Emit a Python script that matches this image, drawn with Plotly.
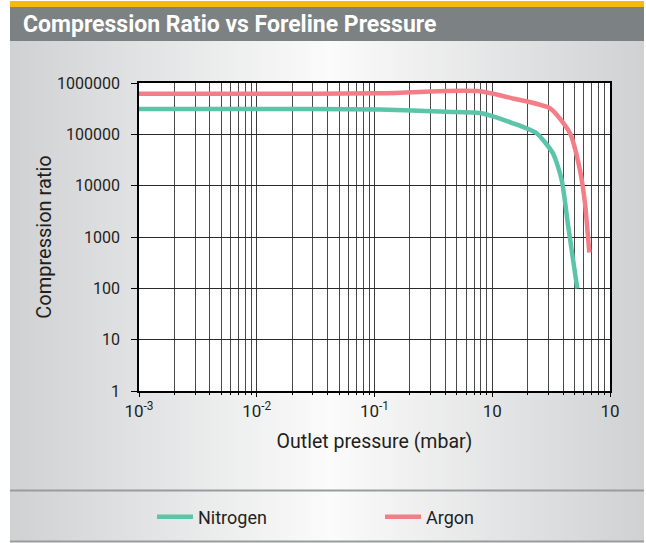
import plotly.graph_objects as go

# ---- data ----
nitrogen_x = [0.001, 0.003, 0.01, 0.03, 0.111, 0.404, 0.79, 1.5, 2.38, 3.28, 3.89, 4.42, 5.27]
nitrogen_y = [310000, 310000, 310000, 310000, 305000, 276000, 260000, 164000, 105000, 42500, 12900, 1600, 100]

argon_x = [0.001, 0.003, 0.01, 0.03, 0.111, 0.404, 0.79, 1.5, 3.1, 4.57, 5.56, 6.13, 6.67]
argon_y = [620000, 620000, 620000, 620000, 630000, 700000, 690000, 500000, 320000, 105000, 20000, 4600, 500]

x_tickvals = [0.001, 0.01, 0.1, 1, 10]
x_ticktext = ["10<sup>-3</sup>", "10<sup>-2</sup>", "10<sup>-1</sup>", "10", "10"]
y_tickvals = [1, 10, 100, 1000, 10000, 100000, 1000000]
y_ticktext = ["1", "10", "100", "1000", "10000", "100000", "1000000"]
minor_mult = [2, 3, 4, 5, 6, 7, 8, 9]
decades = [0.001, 0.01, 0.1, 1]

title_text = "Compression Ratio vs Foreline Pressure"
series_names = ["Nitrogen", "Argon"]
colors = ["#5cc4a9", "#f37e88"]

FONT = "Roboto, Liberation Sans, Arial, sans-serif"

W, H = 646, 543
ML, MR, MT, MB = 139, 36, 83, 152
PW, PH = W - ML - MR, H - MT - MB


def px2x(px):
    return (px - ML) / PW


def py2y(py):
    return (H - MB - py) / PH


fig = go.Figure()
fig.add_trace(go.Scatter(x=nitrogen_x, y=nitrogen_y, name=series_names[0], mode="lines",
                         legend="legend",
                         line=dict(color=colors[0], width=4.5, shape="spline", smoothing=0.6)))
fig.add_trace(go.Scatter(x=argon_x, y=argon_y, name=series_names[1], mode="lines",
                         legend="legend2",
                         line=dict(color=colors[1], width=4.5, shape="spline", smoothing=0.6)))

shapes = []
# gradient panel background
left, right, center = 10, 644, 330
c_edge = (0xd0, 0xd1, 0xd3)
c_mid = (0xfb, 0xfb, 0xfb)
step = 3
xpix = left
while xpix < right:
    xm = xpix + step / 2
    if xm < center:
        t = (center - xm) / (center - left)
    else:
        t = (xm - center) / (right - center)
    t = min(max(t, 0), 1)
    col = tuple(round(c_mid[i] + (c_edge[i] - c_mid[i]) * t) for i in range(3))
    shapes.append(dict(type="rect", xref="paper", yref="paper", layer="below",
                       x0=px2x(xpix), x1=px2x(min(xpix + step + 0.6, right)),
                       y0=py2y(541), y1=py2y(41),
                       line=dict(width=0), fillcolor="rgb(%d,%d,%d)" % col))
    xpix += step
# title bar
shapes.append(dict(type="rect", xref="paper", yref="paper", layer="below",
                   x0=px2x(left), x1=px2x(right), y0=py2y(41), y1=py2y(7),
                   line=dict(width=0), fillcolor="#7c8183"))
shapes.append(dict(type="rect", xref="paper", yref="paper", layer="below",
                   x0=px2x(left), x1=px2x(right), y0=py2y(7), y1=py2y(1),
                   line=dict(width=0), fillcolor="#f7b90d"))
# separator lines
for yy in (490.5, 541.5):
    shapes.append(dict(type="rect", xref="paper", yref="paper", layer="below",
                       x0=px2x(left), x1=px2x(right), y0=py2y(yy + 1), y1=py2y(yy - 1),
                       line=dict(width=0), fillcolor="#9a9b9c"))
# white plot area
shapes.append(dict(type="rect", xref="paper", yref="paper", layer="below",
                   x0=0, x1=1, y0=0, y1=1, line=dict(width=0), fillcolor="white"))

minor_vals = [d * m for d in decades for m in minor_mult if d * m < 10]

legend_common = dict(orientation="h", xanchor="left", yanchor="middle", y=py2y(517),
                     bgcolor="rgba(0,0,0,0)", itemwidth=36,
                     font=dict(family=FONT, size=18, color="#231f20"))

fig.update_layout(
    width=W, height=H,
    margin=dict(l=ML, r=MR, t=MT, b=MB, autoexpand=False),
    paper_bgcolor="white",
    plot_bgcolor="white",
    font=dict(family=FONT, size=17, color="#231f20"),
    shapes=shapes,
    showlegend=True,
    legend=dict(x=px2x(152), **legend_common),
    legend2=dict(x=px2x(380), **legend_common),
    annotations=[dict(text="<b>" + title_text + "</b>", xref="paper", yref="paper",
                      x=px2x(21), y=py2y(24), xanchor="left", yanchor="middle", showarrow=False,
                      font=dict(family=FONT, size=23, color="white"))],
)

fig.update_xaxes(type="log", range=[-3, 1], tickmode="array", tickvals=x_tickvals, ticktext=x_ticktext,
                 showgrid=True, gridcolor="#3c3c3c", gridwidth=1,
                 ticks="outside", ticklen=4, tickcolor="black", tickwidth=1,
                 minor=dict(tickmode="array", tickvals=minor_vals, showgrid=True, gridcolor="#4a4a4a",
                            gridwidth=1, ticks="outside", ticklen=2, tickcolor="black"),
                 showline=True, linecolor="black", linewidth=1.5, mirror=True,
                 zeroline=False, tickfont=dict(size=17), automargin=False,
                 title=dict(text="Outlet pressure (mbar)", font=dict(size=19.5), standoff=14))
fig.update_yaxes(type="log", range=[0, 6], tickmode="array", tickvals=y_tickvals, ticktext=y_ticktext,
                 showgrid=True, gridcolor="#2a2a2a", gridwidth=1,
                 ticks="outside", ticklen=6, tickcolor="black", tickwidth=1,
                 ticklabelstandoff=8,
                 showline=True, linecolor="black", linewidth=1.5, mirror=True,
                 zeroline=False, tickfont=dict(size=16), automargin=False,
                 title=dict(text="Compression ratio", font=dict(size=20), standoff=0))

fig.write_html("out.html", config={"displayModeBar": False},
               post_script="document.body.style.margin='0px';document.body.style.overflow='hidden';")
